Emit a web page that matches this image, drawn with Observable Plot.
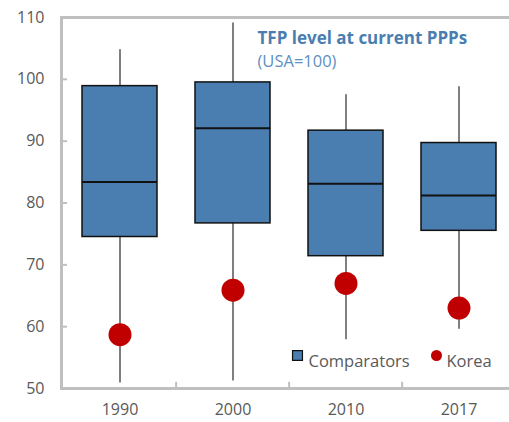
<!DOCTYPE html>
<html>
<head>
<meta charset="utf-8">
<script src="https://cdn.jsdelivr.net/npm/d3@7"></script>
<script src="https://cdn.jsdelivr.net/npm/@observablehq/plot@0.6"></script>
<style>
  html, body { margin: 0; padding: 0; background: #fff; }
  #chart { position: relative; width: 509px; height: 422px; overflow: hidden; }
</style>
</head>
<body>
<div id="chart"></div>
<script>
const years = ["1990", "2000", "2010", "2017"];
const whiskerMin = [50.9, 51.2, 57.9, 59.6];
const q1 = [74.5, 76.7, 71.4, 75.5];
const median = [83.4, 92.1, 83.1, 81.2];
const q3 = [98.9, 99.5, 91.7, 89.7];
const whiskerMax = [104.8, 109.1, 97.5, 98.8];
const korea = [58.7, 65.9, 67.0, 63.0];
const yTicks = [50, 60, 70, 80, 90, 100, 110];
const title = "TFP level at current PPPs";
const subtitle = "(USA=100)";
const legendLabels = ["Comparators", "Korea"];

const rows = years.map((y, i) => ({
  year: y, min: whiskerMin[i], q1: q1[i], med: median[i], q3: q3[i], max: whiskerMax[i], korea: korea[i]
}));

const blue = "#4a7eb0";
const gray = "#595959";
const axisGray = "#bfbfbf";
const red = "#c00000";
const font = "'Open Sans', sans-serif";
const x0 = 61, x1 = 516;
const bw = (x1 - x0) / years.length;
const inset = 19;

const plot = Plot.plot({
  width: 509,
  height: 422,
  marginTop: 17,
  marginBottom: 34,
  marginLeft: 61,
  marginRight: 0,
  style: { fontFamily: font, fontSize: "16px", color: gray, background: "white" },
  x: { domain: years, range: [x0, x1], padding: 0, label: null },
  y: { domain: [50, 110], label: null },
  marks: [
    Plot.ruleY([110], { stroke: axisGray, strokeWidth: 3 }),
    Plot.ruleY([50], { stroke: axisGray, strokeWidth: 3 }),
    Plot.frame({ anchor: "left", stroke: axisGray, strokeWidth: 3 }),
    Plot.ruleX(years.slice(1), { x: d => d, dx: -bw / 2, y1: 50, y2: 51, stroke: axisGray, strokeWidth: 2 }),
    Plot.axisY({ ticks: yTicks, tickSize: -6, tickPadding: 23, stroke: axisGray, strokeWidth: 2, fill: gray, fontSize: 16, label: null }),
    Plot.axisX({ tickSize: 0, tickPadding: 15, fill: gray, fontSize: 16, label: null }),
    Plot.ruleX(rows, { x: "year", y1: "min", y2: "q1", stroke: "#555", strokeWidth: 1.5 }),
    Plot.ruleX(rows, { x: "year", y1: "q3", y2: "max", stroke: "#555", strokeWidth: 1.5 }),
    Plot.barY(rows, { x: "year", y1: "q1", y2: "q3", fill: blue, stroke: "#111", strokeWidth: 1.5, insetLeft: inset, insetRight: inset }),
    Plot.tickY(rows, { x: "year", y: "med", stroke: "#111", strokeWidth: 2, insetLeft: inset, insetRight: inset }),
    Plot.dot(rows, { x: "year", y: "korea", r: 11.5, fill: red, stroke: null }),
    Plot.text([title], { frameAnchor: "top-left", dx: 196, dy: 14, text: d => d, textAnchor: "start", fill: blue, fontWeight: "bold", fontSize: 17 }),
    Plot.text([subtitle], { frameAnchor: "top-left", dx: 196, dy: 38, text: d => d, textAnchor: "start", fill: "#5e90c2", fontSize: 16.5 }),
    Plot.dot([legendLabels[0]], { frameAnchor: "top-left", dx: 236, dy: 338, symbol: "square", r: 5.6, fill: blue, stroke: "#111", strokeWidth: 1.2 }),
    Plot.text([legendLabels[0]], { frameAnchor: "top-left", dx: 247, dy: 338, text: d => d, textAnchor: "start", fill: gray, fontSize: 16.5 }),
    Plot.dot([legendLabels[1]], { frameAnchor: "top-left", dx: 375, dy: 338, r: 5.5, fill: red }),
    Plot.text([legendLabels[1]], { frameAnchor: "top-left", dx: 385, dy: 338, text: d => d, textAnchor: "start", fill: gray, fontSize: 16.5 })
  ]
});
document.getElementById("chart").appendChild(plot);
</script>
</body>
</html>
